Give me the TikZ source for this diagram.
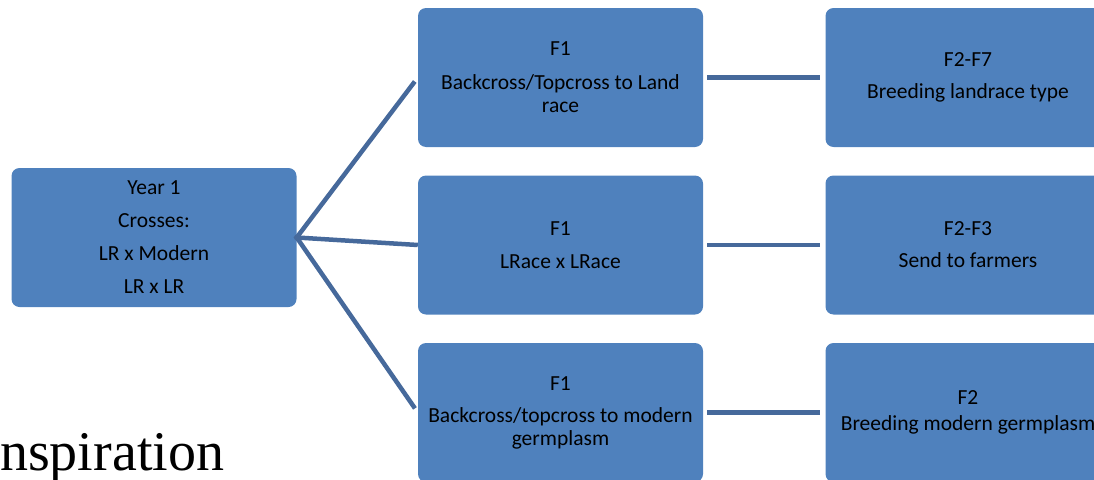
\documentclass[tikz,border=0pt]{standalone}
\usepackage{fontspec}
\setmainfont{Carlito}
\newfontfamily\titlefont{Liberation Serif}
\usetikzlibrary{positioning}
\definecolor{boxblue}{HTML}{4F81BD}
\definecolor{lineblue}{HTML}{46699B}
\tikzset{Block/.style={fill=boxblue, rounded corners=8pt, minimum width=285pt, minimum height=139pt, inner sep=0pt, align=center, font=\fontsize{21.5}{23}\selectfont}}
\tikzset{Block Edge/.style={draw=lineblue, line width=4.5pt}}
\tikzset{Title/.style={anchor=base west, inner sep=0pt, font=\titlefont\fontsize{56}{60}\selectfont}}

\begin{document}
\begin{tikzpicture}[x=1pt, y=-1pt]
\useasboundingbox (0,0) rectangle (1094,479);
\clip (0,0) rectangle (1094,479);

\node[Title] (title) at (0,470) {nspiration};

\node[Block] (year) at (154,237.5) {Year 1\\[10pt]Crosses:\\[10pt]LR x Modern\\[10pt]LR x LR};

\node[Block] (crossLand) at (560.5,77.5) {F1\\[11pt]Backcross/Topcross to Land\\race};
\node[Block] (crossLR) at (560.5,245) {F1\\[10pt]LRace x LRace};
\node[Block] (crossModern) at (560.5,412.5) {F1\\[9pt]Backcross/topcross to modern\\germplasm};

\node[Block] (genLand) at (968,77.5) {F2-F7\\[9pt]Breeding landrace type};
\node[Block] (genFarm) at (968,245) {F2-F3\\[9pt]Send to farmers};
\node[Block] (genModern) at (968,412.5) {F2\\[3pt]Breeding modern germplasm};

\draw[Block Edge, shorten <=-2pt, shorten >=5pt] (year.east) -- (crossLand.west);
\draw[Block Edge, shorten <=-2pt] (year.east) -- (crossLR.west);
\draw[Block Edge, shorten <=-2pt, shorten >=5pt] (year.east) -- (crossModern.west);

\draw[Block Edge, shorten <=4pt, shorten >=5pt] (crossLand.east) -- (genLand.west);
\draw[Block Edge, shorten <=4pt, shorten >=5pt] (crossLR.east) -- (genFarm.west);
\draw[Block Edge, shorten <=4pt, shorten >=5pt] (crossModern.east) -- (genModern.west);
\end{tikzpicture}
\end{document}
